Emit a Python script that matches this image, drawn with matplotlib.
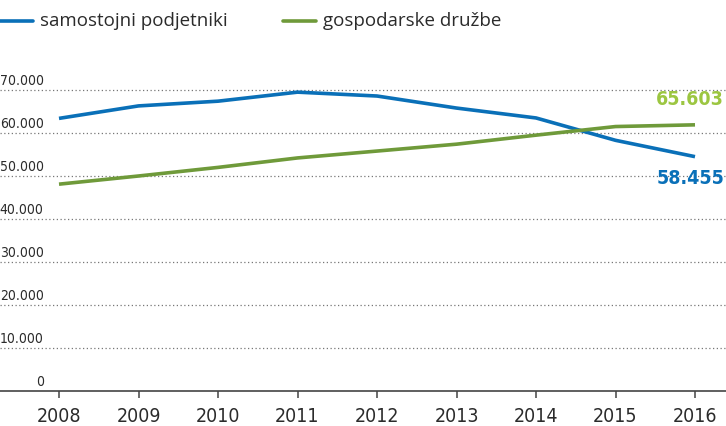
import matplotlib.pyplot as plt
from matplotlib.lines import Line2D

# data
years = [2008, 2009, 2010, 2011, 2012, 2013, 2014, 2015, 2016]
samostojni = [63400, 66300, 67400, 69500, 68600, 65800, 63500, 58300, 54500]
druzbe = [48100, 50000, 52000, 54200, 55800, 57400, 59500, 61500, 61900]
series_names = ["samostojni podjetniki", "gospodarske družbe"]
end_labels = ["58.455", "65.603"]
yticks = [0, 10000, 20000, 30000, 40000, 50000, 60000, 70000]

blue = "#0a70b8"
green = "#6f9a3a"
green_lbl = "#9cc641"
txt = "#2b2b2b"

fig = plt.figure(figsize=(7.26, 4.27), dpi=100)
ax = fig.add_axes([0, 35 / 427, 1, 392 / 427])
ax.set_xlim(2008 - 59 / 79.5, 2016 + 31 / 79.5)
ax.set_ylim(0, 392 / 43 * 10000)

for sp in ["top", "right", "left"]:
    ax.spines[sp].set_visible(False)
ax.spines["bottom"].set_color("#444444")
ax.spines["bottom"].set_linewidth(1.2)

# grid + y labels (above the gridline, left side)
for v in yticks:
    if v > 0:
        ax.axhline(v, color="#777777", lw=0.9, ls=(0, (1, 2)), zorder=1)
    lbl = "{:,}".format(v).replace(",", ".")
    ax.annotate(lbl, xy=(0, v), xycoords=("axes fraction", "data"),
                xytext=(31.5, 2.5), textcoords="offset points",
                ha="right", va="bottom", fontsize=10, color=txt, stretch="condensed")
ax.set_yticks([])

ax.plot(years, samostojni, color=blue, lw=2.6, solid_capstyle="butt", zorder=3)
ax.plot(years, druzbe, color=green, lw=2.6, solid_capstyle="butt", zorder=3)

ax.set_xticks(years)
ax.set_xticklabels([str(y) for y in years], fontsize=14, color=txt, stretch="condensed")
ax.tick_params(axis="x", direction="out", length=5, width=1.1, color="#444444", pad=6)

# end labels
ax.annotate(end_labels[1], xy=(years[-1], druzbe[-1]), xytext=(21, 19),
            textcoords="offset points", ha="right", va="center",
            fontsize=14, fontweight="bold", color=green_lbl, stretch="condensed")
ax.annotate(end_labels[0], xy=(years[-1], samostojni[-1]), xytext=(21, -15),
            textcoords="offset points", ha="right", va="center",
            fontsize=14, fontweight="bold", color=blue, stretch="condensed")

# legend
for x0, col, name in [(0, blue, series_names[0]), (283, green, series_names[1])]:
    fig.add_artist(Line2D([x0 / 726, (x0 + 33) / 726], [1 - 22 / 427] * 2,
                          color=col, lw=2.6, solid_capstyle="round"))
    fig.text((x0 + 40) / 726, 1 - 21 / 427, name, fontsize=13.5, color=txt,
             ha="left", va="center", family=["Open Sans", "DejaVu Sans"])

fig.savefig("out.png", dpi=100)
